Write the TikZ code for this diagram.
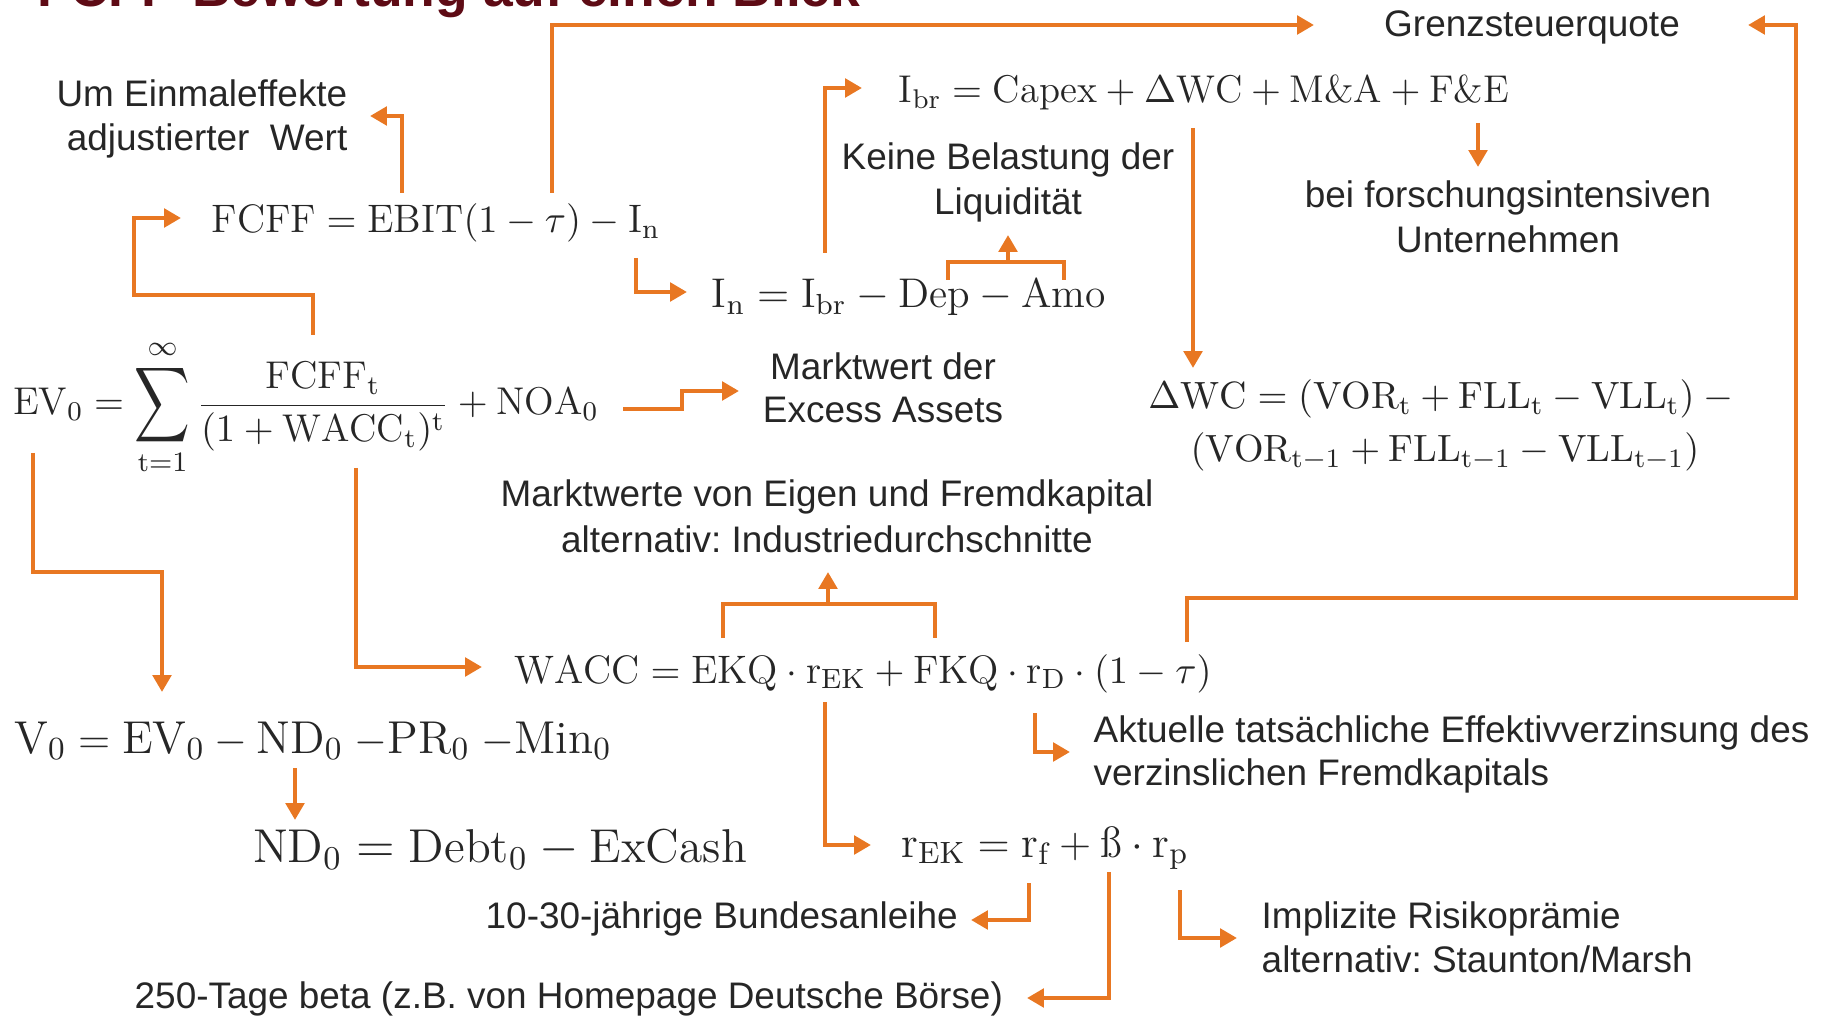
\documentclass[tikz,border=0pt]{standalone}
\usepackage{amsmath}
\usepackage{graphicx}
\usepackage{fontspec}
\newfontfamily\arialf{Liberation Sans}
\usetikzlibrary{arrows.meta}
\definecolor{orng}{HTML}{E87722}
\definecolor{txtc}{HTML}{262626}
\definecolor{ttlc}{HTML}{5E0B15}
\newcommand\fs[1]{\fontsize{#1}{#1}\selectfont}
\newcommand\bigsum{\mathop{\vcenter{\hbox{\scalebox{1}[1.36]{$\displaystyle\sum$}}}}\limits}
\frenchspacing
\begin{document}
\begin{tikzpicture}[x=0.01cm,y=-0.01cm,
  lbl/.style={font={\arialf\fs{10.5}}, text=txtc, inner sep=0pt},
  frm/.style={text=txtc, inner sep=0pt, anchor=base},
  con/.style={draw=orng, line width=1.4pt, -{Triangle[length=4.8pt,width=5.2pt]}},
  brk/.style={draw=orng, line width=1.4pt}
]
\useasboundingbox (0,0) rectangle (1831,1016);

% title (cut off at top)
\node[font={\arialf\bfseries\fs{15.2}}, text=ttlc, inner sep=0pt, anchor=base west] (title) at (37,7) {FCFF-Bewertung auf einen Blick};

% formulas
\node[frm, font=\fs{11.3}] (fcff) at (436,233) {$\mathrm{FCFF}=\mathrm{EBIT}(1-\tau)-\mathrm{I_n}$};
\node[frm, font=\fs{11}] (ibr) at (1204,103) {$\mathrm{I_{br}}=\mathrm{Capex}+\Delta\mathrm{WC}+\mathrm{M\&A}+\mathrm{F\&E}$};
\node[frm, font=\fs{11.8}] (inet) at (909,308) {$\mathrm{I_n}=\mathrm{I_{br}}-\mathrm{Dep}-\mathrm{Amo}$};
\node[frm, font=\fs{11}] (ev) at (306,415) {$\displaystyle \mathrm{EV_0}=\bigsum_{\mathrm{t}=1}^{\infty}\frac{\mathrm{FCFF_t}}{(1+\mathrm{WACC_t})^{\mathrm{t}}}+\mathrm{NOA_0}$};
\node[frm, font=\fs{10.8}] (dwc1) at (1445,409) {$\Delta\mathrm{WC}=(\mathrm{VOR_t}+\mathrm{FLL_t}-\mathrm{VLL_t})-{}$};
\node[frm, font=\fs{10.8}] (dwc2) at (1445,462) {$(\mathrm{VOR_{t-1}}+\mathrm{FLL_{t-1}}-\mathrm{VLL_{t-1}})$};
\node[frm, font=\fs{11.3}] (wacc) at (863,683) {$\mathrm{WACC}=\mathrm{EKQ}\cdot\mathrm{r_{EK}}+\mathrm{FKQ}\cdot\mathrm{r_D}\cdot(1-\tau)$};
\node[frm, font=\fs{13.1}] (vnull) at (313,753) {$\mathrm{V_0}=\mathrm{EV_0}-\mathrm{ND_0}\;{-}\mathrm{PR_0}\;{-}\mathrm{Min_0}$};
\node[frm, font=\fs{13.5}] (nd) at (500,862) {$\mathrm{ND_0}=\mathrm{Debt_0}-\mathrm{ExCash}$};
\node[frm, font=\fs{12.5}] (rek) at (1045,857) {$\mathrm{r_{EK}}=\mathrm{r_f}+\mbox{ß}\cdot\mathrm{r_p}$};

% labels
\node[lbl, anchor=base east] (ume1) at (348,107) {Um Einmaleffekte};
\node[lbl, anchor=base east] (ume2) at (348,151) {adjustierter\ \ Wert};
\node[lbl, anchor=base] (gsq) at (1532,37) {Grenzsteuerquote};
\node[lbl, anchor=base] (kb1) at (1008,170) {Keine Belastung der};
\node[lbl, anchor=base] (kb2) at (1008,215) {Liquidität};
\node[lbl, anchor=base] (bf1) at (1508,208) {bei forschungsintensiven};
\node[lbl, anchor=base] (bf2) at (1508,253) {Unternehmen};
\node[lbl, anchor=base] (mw1) at (883,380) {Marktwert der};
\node[lbl, anchor=base] (mw2) at (883,423) {Excess Assets};
\node[lbl, anchor=base] (mk1) at (827,507) {Marktwerte von Eigen und Fremdkapital};
\node[lbl, anchor=base] (mk2) at (827,552) {alternativ: Industriedurchschnitte};
\node[lbl, anchor=base west] (ak1) at (1093,742) {Aktuelle tatsächliche Effektivverzinsung des};
\node[lbl, anchor=base west] (ak2) at (1093,785) {verzinslichen Fremdkapitals};
\node[lbl, anchor=base west] (bund) at (485,928) {10-30-jährige Bundesanleihe};
\node[lbl, anchor=base west] (beta) at (134,1008) {250-Tage beta (z.B. von Homepage Deutsche Börse)};
\node[lbl, anchor=base west] (ir1) at (1261,928) {Implizite Risikoprämie};
\node[lbl, anchor=base west] (ir2) at (1261,972) {alternativ: Staunton/Marsh};

% connector end points
\coordinate (ebitT) at (402,193);   \coordinate (umeE) at (370,116);
\coordinate (numT) at (313,335);    \coordinate (numK) at (313,295);
\coordinate (fcffL) at (134,218);   \coordinate (fcffW) at (181,218);
\coordinate (tauT) at (552,193);    \coordinate (gsqW) at (1314,25);
\coordinate (wtauT) at (1187,642);  \coordinate (wtauK) at (1187,598);
\coordinate (gsqR) at (1796,25);    \coordinate (gsqE) at (1748,25);
\coordinate (inB) at (636,258);     \coordinate (inetW) at (687,292);
\coordinate (ibrB) at (825,253);    \coordinate (ibrW) at (862,88);
\coordinate (depT) at (948,280);    \coordinate (amoT) at (1064,280);
\coordinate (brkM) at (1008,262);   \coordinate (kbB) at (1008,235);
\coordinate (dwcB) at (1193,128);   \coordinate (dwcT) at (1193,368);
\coordinate (feB) at (1478,123);    \coordinate (bfT) at (1478,167);
\coordinate (noaR) at (623,409);    \coordinate (noaK1) at (682,409);
\coordinate (noaK2) at (682,391);   \coordinate (mwW) at (739,391);
\coordinate (evB) at (33,453);      \coordinate (evK) at (33,572);
\coordinate (vnullT) at (162,692);
\coordinate (denB) at (356,468);    \coordinate (waccW) at (482,667);
\coordinate (ekqT) at (723,638);    \coordinate (fkqT) at (935,638);
\coordinate (wbrkY) at (828,604);   \coordinate (mkB) at (828,572);
\coordinate (rekB) at (825,702);    \coordinate (rekW) at (871,845);
\coordinate (rdB) at (1035,713);    \coordinate (akW) at (1070,752);
\coordinate (ndB) at (295,768);     \coordinate (ndT) at (295,820);
\coordinate (rfB) at (1029,883);    \coordinate (bundE) at (971,920);
\coordinate (betaB) at (1109,872);  \coordinate (betaE) at (1027,998);
\coordinate (rpB) at (1180,890);    \coordinate (irW) at (1237,938);

% connectors
\draw[con] (ebitT) |- (umeE);
\draw[con] (numT) -- (numK) -| (fcffL) -- (fcffW);
\draw[con] (tauT) |- (gsqW);
\draw[con] (wtauT) -- (wtauK) -| (gsqR) -- (gsqE);
\draw[con] (inB) |- (inetW);
\draw[con] (ibrB) |- (ibrW);
\draw[brk] (depT) |- (brkM) -| (amoT);
\draw[con] (brkM) -- (kbB);
\draw[con] (dwcB) -- (dwcT);
\draw[con] (feB) -- (bfT);
\draw[con] (noaR) -- (noaK1) -- (noaK2) -- (mwW);
\draw[con] (evB) -- (evK) -| (vnullT);
\draw[con] (denB) |- (waccW);
\draw[brk] (ekqT) |- (wbrkY) -| (fkqT);
\draw[con] (wbrkY) -- (mkB);
\draw[con] (rekB) |- (rekW);
\draw[con] (rdB) |- (akW);
\draw[con] (ndB) -- (ndT);
\draw[con] (rfB) |- (bundE);
\draw[con] (betaB) |- (betaE);
\draw[con] (rpB) |- (irW);
\end{tikzpicture}
\end{document}
